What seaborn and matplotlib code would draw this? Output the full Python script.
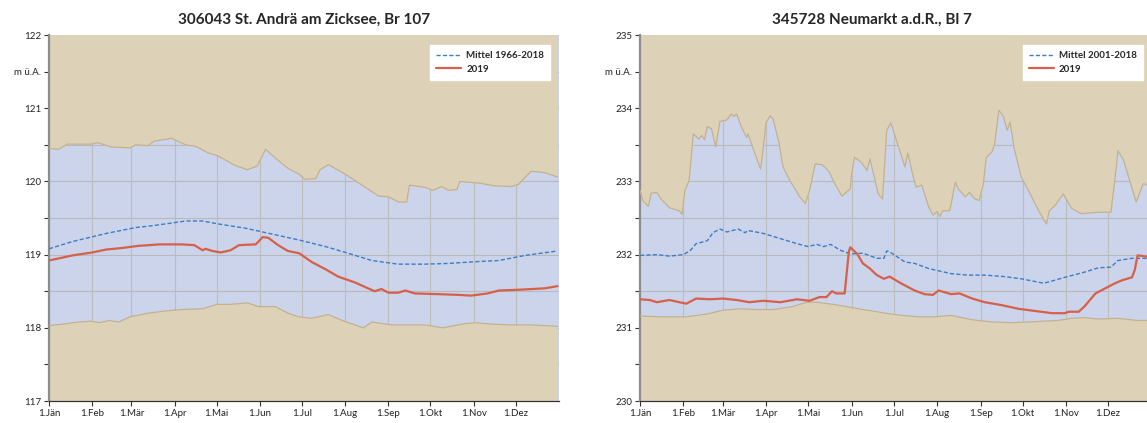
import numpy as np
import pandas as pd
import matplotlib
matplotlib.use("Agg")
import matplotlib.pyplot as plt
import seaborn as sns

# Month labels (day of year where each month starts)
month_days = [0, 31, 59, 90, 120, 151, 181, 212, 243, 273, 304, 334]
month_labels = ["1.Jän", "1.Feb", "1.Mär", "1.Apr", "1.Mai", "1.Jun",
                "1.Jul", "1.Aug", "1.Sep", "1.Okt", "1.Nov", "1.Dez"]

# Station 1: St. Andrä am Zicksee
a_title = "306043 St. Andrä am Zicksee, Br 107"
a_mean_label = "Mittel 1966-2018"
a_max_days = [0, 7, 13, 30, 35, 45, 58, 62, 71, 75, 88, 91, 98, 105, 114, 121, 133, 142, 149, 155,
              164, 171, 179, 183, 191, 194, 200, 212, 224, 236, 243, 250, 256, 258, 269, 275, 281,
              286, 292, 294, 307, 319, 331, 336, 345, 355, 364]
a_max = [120.45, 120.44, 120.51, 120.51, 120.53, 120.47, 120.46, 120.50, 120.49, 120.55,
         120.59, 120.56, 120.50, 120.48, 120.39, 120.35, 120.22, 120.16, 120.21, 120.44,
         120.29, 120.18, 120.10, 120.03, 120.04, 120.16, 120.23, 120.10, 119.95, 119.80,
         119.79, 119.72, 119.72, 119.95, 119.92, 119.88, 119.93, 119.88, 119.89, 120.00,
         119.98, 119.94, 119.93, 119.96, 120.14, 120.12, 120.06]
a_min_days = [0, 10, 21, 30, 36, 43, 50, 58, 71, 83, 95, 110, 120, 129, 142, 150, 162, 171, 179,
              188, 200, 210, 225, 231, 245, 257, 269, 282, 295, 305, 317, 331, 345, 364]
a_min = [118.03, 118.05, 118.08, 118.09, 118.07, 118.10, 118.08, 118.15, 118.20, 118.23,
         118.25, 118.26, 118.32, 118.32, 118.34, 118.29, 118.29, 118.20, 118.15, 118.13,
         118.18, 118.10, 118.00, 118.08, 118.04, 118.04, 118.04, 118.00, 118.05, 118.07,
         118.05, 118.04, 118.04, 118.02]
a_mean_days = [0, 17, 41, 62, 76, 98, 110, 121, 141, 160, 179, 198, 214, 231, 250, 269, 286, 302,
               322, 341, 364]
a_mean = [119.08, 119.18, 119.29, 119.37, 119.40, 119.46, 119.46, 119.42, 119.36, 119.28,
          119.20, 119.11, 119.02, 118.92, 118.87, 118.87, 118.88, 118.90, 118.92, 118.99, 119.05]
a_2019_days = [0, 17, 31, 41, 52, 64, 79, 95, 104, 110, 112, 117, 123, 130, 136, 148, 153, 157,
               164, 171, 179, 188, 198, 207, 219, 233, 238, 243, 250, 255, 262, 279, 293, 302,
               314, 322, 336, 355, 364]
a_2019 = [118.92, 118.99, 119.03, 119.07, 119.09, 119.12, 119.14, 119.14, 119.13, 119.06,
          119.08, 119.05, 119.03, 119.06, 119.13, 119.14, 119.24, 119.23, 119.13, 119.05,
          119.02, 118.90, 118.80, 118.70, 118.62, 118.50, 118.53, 118.48, 118.48, 118.51,
          118.47, 118.46, 118.45, 118.44, 118.47, 118.51, 118.52, 118.54, 118.57]

# Station 2: Neumarkt a.d.R.
b_title = "345728 Neumarkt a.d.R., Bl 7"
b_mean_label = "Mittel 2001-2018"
b_max_days = [0, 2, 6, 8, 12, 15, 21, 28, 30, 32, 35, 38, 42, 44, 46, 48, 51, 54, 57, 62, 65, 67,
              69, 72, 76, 77, 82, 86, 87, 90, 93, 95, 99, 102, 107, 114, 118, 121, 125, 130, 135,
              139, 144, 150, 151, 153, 158, 162, 164, 170, 173, 176, 179, 183, 189, 191, 195,
              197, 201, 206, 209, 212, 214, 216, 221, 225, 227, 232, 235, 239, 242, 245, 247,
              251, 253, 256, 259, 262, 264, 267, 272, 277, 285, 290, 292, 296, 302, 308, 315,
              327, 336, 339, 341, 345, 350, 354, 359, 362]
b_max = [232.88, 232.74, 232.66, 232.84, 232.85, 232.76, 232.64, 232.60, 232.55, 232.88,
         233.01, 233.65, 233.58, 233.63, 233.57, 233.75, 233.72, 233.47, 233.82, 233.84,
         233.92, 233.89, 233.92, 233.76, 233.60, 233.65, 233.38, 233.17, 233.31, 233.81,
         233.90, 233.85, 233.54, 233.20, 233.01, 232.79, 232.70, 232.88, 233.24, 233.23,
         233.13, 232.97, 232.80, 232.90, 233.10, 233.33, 233.26, 233.15, 233.31, 232.83,
         232.76, 233.70, 233.80, 233.56, 233.20, 233.39, 233.06, 232.92, 232.95, 232.65,
         232.54, 232.59, 232.52, 232.60, 232.60, 232.99, 232.90, 232.79, 232.85, 232.76,
         232.74, 232.97, 233.33, 233.40, 233.51, 233.97, 233.90, 233.70, 233.81, 233.45,
         233.06, 232.88, 232.58, 232.42, 232.60, 232.67, 232.83, 232.63, 232.56, 232.58,
         232.58, 233.06, 233.42, 233.29, 232.97, 232.72, 232.97, 232.95]
b_min_days = [0, 17, 33, 48, 59, 71, 83, 95, 109, 119, 126, 138, 150, 159, 169, 178, 187, 199,
              210, 222, 237, 251, 265, 277, 287, 298, 308, 317, 327, 341, 355, 362]
b_min = [231.16, 231.15, 231.15, 231.19, 231.24, 231.26, 231.25, 231.25, 231.29, 231.35,
         231.35, 231.32, 231.28, 231.25, 231.22, 231.19, 231.17, 231.15, 231.15, 231.17,
         231.11, 231.08, 231.07, 231.08, 231.09, 231.10, 231.13, 231.14, 231.12, 231.13,
         231.10, 231.10]
b_mean_days = [0, 12, 21, 31, 36, 40, 48, 52, 57, 62, 70, 75, 77, 88, 100, 112, 120, 126, 131,
               136, 143, 150, 159, 169, 174, 176, 178, 189, 196, 206, 222, 234, 246, 260, 272,
               288, 294, 303, 317, 327, 336, 341, 351, 362]
b_mean = [231.99, 232.00, 231.98, 232.00, 232.06, 232.15, 232.19, 232.30, 232.35, 232.31,
          232.35, 232.30, 232.33, 232.29, 232.22, 232.15, 232.11, 232.14, 232.11, 232.14,
          232.06, 232.01, 232.02, 231.95, 231.95, 232.05, 232.04, 231.90, 231.88, 231.81,
          231.74, 231.72, 231.72, 231.70, 231.67, 231.61, 231.64, 231.69, 231.76, 231.82,
          231.83, 231.92, 231.95, 231.95]
b_2019_days = [0, 7, 12, 21, 33, 40, 50, 59, 69, 78, 88, 100, 112, 121, 128, 133, 137, 140, 146,
               149, 150, 155, 159, 164, 169, 174, 178, 187, 196, 203, 209, 213, 222, 228, 237,
               246, 258, 270, 282, 294, 303, 306, 313, 317, 325, 332, 339, 344, 351, 353, 355,
               359, 362]
b_2019 = [231.39, 231.38, 231.35, 231.38, 231.33, 231.40, 231.39, 231.40, 231.38, 231.35,
          231.37, 231.35, 231.39, 231.37, 231.42, 231.42, 231.50, 231.47, 231.47, 232.04,
          232.10, 232.01, 231.88, 231.81, 231.72, 231.67, 231.70, 231.60, 231.51, 231.46,
          231.45, 231.51, 231.46, 231.47, 231.40, 231.35, 231.31, 231.26, 231.23, 231.20,
          231.20, 231.22, 231.22, 231.29, 231.47, 231.54, 231.61, 231.65, 231.69, 231.79,
          231.99, 231.98, 231.97]

TAN = "#ddd2b8"
BAND = "#cbd4ea"
EDGE = "#c4b28e"
MEAN_C = "#3d7cc6"
RED = "#d6604a"

sns.set_theme(style="white")
plt.rcParams["font.family"] = ["Lato", "DejaVu Sans"]
plt.rcParams["axes.grid"] = False

fig = plt.figure(figsize=(11.47, 4.23), dpi=100)
ax1 = fig.add_axes([0.0427, 0.052, 0.4446, 0.865])
ax2 = fig.add_axes([0.558, 0.052, 0.446, 0.865])


def draw(ax, title, mean_label, max_d, mx, min_d, mn, mean_d, mean, d19, v19, y0):
    ax.set_facecolor(BAND)
    y1 = y0 + 5
    ax.set_xlim(0, 365)
    ax.set_ylim(y0, y1)

    # grid lines (low), then tan above the max and below the min on top of them
    for d in month_days[1:]:
        ax.axvline(d, color="#bdbdbd", lw=0.8, zorder=0.3)
    yt = np.arange(y0, y1 + 0.01, 0.5)
    for y in yt[1:-1]:
        ax.axhline(y, color="#b9b9b9", lw=0.8, zorder=0.3)

    ax.fill_between(max_d, mx, y1 + 1, color=TAN, lw=0, zorder=2.5)
    ax.fill_between(min_d, y0 - 1, mn, color=TAN, lw=0, zorder=2.5)
    ax.plot(max_d, mx, color=EDGE, lw=0.9, zorder=2.6)
    ax.plot(min_d, mn, color=EDGE, lw=0.9, zorder=2.6)

    df_mean = pd.DataFrame({"day": mean_d, "level": mean})
    df_19 = pd.DataFrame({"day": d19, "level": v19})
    sns.lineplot(data=df_mean, x="day", y="level", ax=ax, color=MEAN_C, lw=1.0,
                 linestyle=(0, (3, 1.6)), label=mean_label, zorder=3)
    sns.lineplot(data=df_19, x="day", y="level", ax=ax, color=RED, lw=1.6,
                 label="2019", zorder=4)
    ax.set_xlim(0, 365)
    ax.set_ylim(y0, y1)

    ax.set_yticks(yt)
    labels = []
    for y in yt:
        if abs(y - round(y)) < 1e-6:
            labels.append(str(int(round(y))))
        elif abs(y - (y1 - 0.5)) < 1e-6:
            labels.append("m ü.A.")
        else:
            labels.append("")
    ax.set_yticklabels(labels)
    ax.set_xticks(month_days)
    ax.set_xticklabels(month_labels)
    ax.tick_params(axis="both", which="major", length=3.5, width=0.8, color="#333333",
                   direction="out", labelsize=7, labelcolor="#222222", pad=2,
                   left=True, bottom=True)
    ax.grid(False)
    ax.set_xlabel("")
    ax.set_ylabel("")

    for s in ["top", "right"]:
        ax.spines[s].set_visible(False)
    ax.spines["left"].set_color("#8c8c8c")
    ax.spines["left"].set_linewidth(1.6)
    ax.spines["bottom"].set_color("#333333")
    ax.spines["bottom"].set_linewidth(0.9)

    ax.set_title(title, fontsize=11, fontweight="bold", pad=8)
    leg = ax.legend(loc="upper right", bbox_to_anchor=(0.992, 0.985), frameon=True,
                    fancybox=False, framealpha=1, edgecolor="white",
                    prop={"size": 7, "weight": "bold"}, handlelength=2.6,
                    borderpad=0.6, labelspacing=0.45, handletextpad=0.5)
    leg.set_zorder(10)


draw(ax1, a_title, a_mean_label, a_max_days, a_max, a_min_days, a_min,
     a_mean_days, a_mean, a_2019_days, a_2019, 117)
draw(ax2, b_title, b_mean_label, b_max_days, b_max, b_min_days, b_min,
     b_mean_days, b_mean, b_2019_days, b_2019, 230)
# right chart is cut by the image edge in the reference, so its title sits
# left of the axes centre
ax2.title.set_position((0.453, 1.0))

fig.savefig("out.png", dpi=100)
